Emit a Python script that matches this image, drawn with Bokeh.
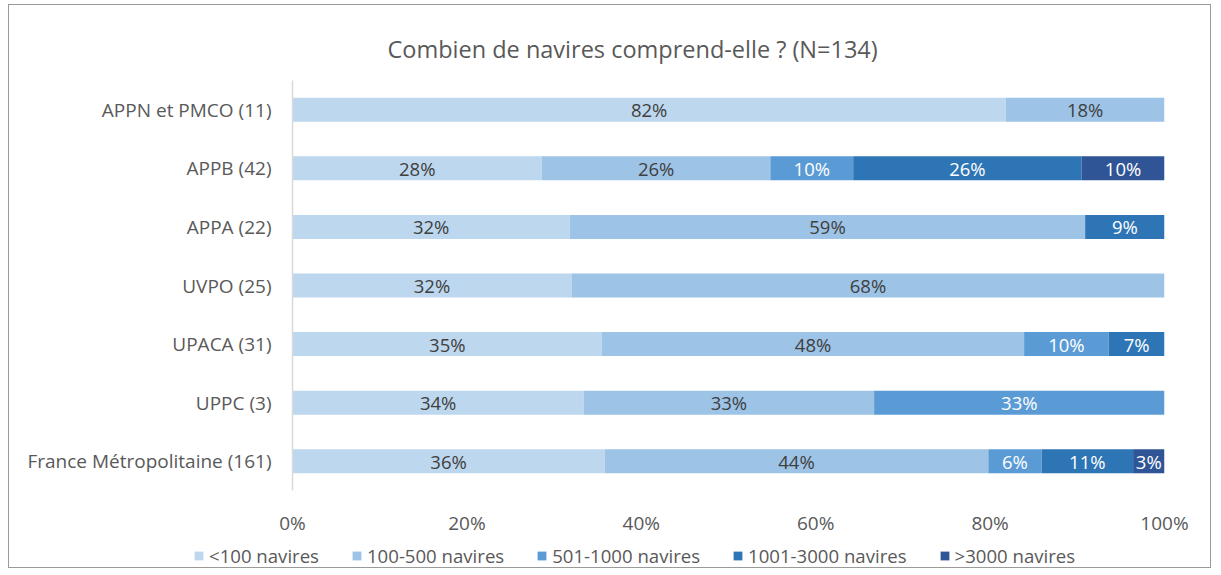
from bokeh.plotting import figure
from bokeh.models import (ColumnDataSource, FactorRange, Range1d, FixedTicker,
                          PrintfTickFormatter, Legend, LegendItem, Title)
from bokeh.core.properties import value
from bokeh.embed import file_html
from bokeh.resources import INLINE

# ---- data ----
categories = ["APPN et PMCO (11)", "APPB (42)", "APPA (22)", "UVPO (25)",
              "UPACA (31)", "UPPC (3)", "France Métropolitaine (161)"]
series = ["<100 navires", "100-500 navires", "501-1000 navires",
          "1001-3000 navires", ">3000 navires"]
v_lt100 = [81.8, 28.6, 31.8, 32.0, 35.5, 33.4, 35.8]
v_100_500 = [18.2, 26.2, 59.1, 68.0, 48.4, 33.3, 44.0]
v_501_1000 = [0.0, 9.5, 0.0, 0.0, 9.7, 33.3, 6.1]
v_1001_3000 = [0.0, 26.2, 9.1, 0.0, 6.4, 0.0, 10.5]
v_gt3000 = [0.0, 9.5, 0.0, 0.0, 0.0, 0.0, 3.6]
lab_lt100 = ["82%", "28%", "32%", "32%", "35%", "34%", "36%"]
lab_100_500 = ["18%", "26%", "59%", "68%", "48%", "33%", "44%"]
lab_501_1000 = ["", "10%", "", "", "10%", "33%", "6%"]
lab_1001_3000 = ["", "26%", "9%", "", "7%", "", "11%"]
lab_gt3000 = ["", "10%", "", "", "", "", "3%"]
x_ticks = [0, 20, 40, 60, 80, 100]
title_text = "Combien de navires comprend-elle ? (N=134)"

colors = ["#BDD7EE", "#9DC3E6", "#5B9BD5", "#2E75B6", "#2F5597"]
label_colors = ["#404040", "#404040", "#FFFFFF", "#FFFFFF", "#FFFFFF"]
FONT = "Open Sans"
BORDER = "1px solid #9a9a9a"

values = [v_lt100, v_100_500, v_501_1000, v_1001_3000, v_gt3000]
labels = [lab_lt100, lab_100_500, lab_501_1000, lab_1001_3000, lab_gt3000]

W = 1203
p = figure(width=W, height=533, output_backend="svg", toolbar_location=None,
           y_range=FactorRange(*reversed(categories)), x_range=Range1d(0, 100),
           min_border_left=283, min_border_right=48, min_border_top=75,
           min_border_bottom=48)
p.styles = {"border-left": BORDER, "border-right": BORDER, "border-top": BORDER,
            "margin": "4px 0 0 8px"}

lefts = [0.0] * len(categories)
for i, name in enumerate(series):
    rights = [l + v for l, v in zip(lefts, values[i])]
    src = ColumnDataSource(dict(cat=categories, left=lefts, right=rights,
                                mid=[(l + r) / 2 for l, r in zip(lefts, rights)],
                                lab=labels[i]))
    p.hbar(y="cat", left="left", right="right", height=0.41, source=src,
           fill_color=colors[i], line_color=None)
    p.text(x="mid", y="cat", text="lab", source=src, text_align="center",
           text_baseline="middle", text_color=label_colors[i],
           text_font=value(FONT), text_font_size="18.5px")
    lefts = rights

p.add_layout(Title(text=title_text, align="left", offset=95, standoff=32,
                   text_font=FONT, text_font_size="23.5px",
                   text_font_style="normal", text_color="#595959"), "above")

p.xgrid.visible = False
p.ygrid.visible = False
p.outline_line_color = None

p.xaxis.ticker = FixedTicker(ticks=x_ticks)
p.xaxis.formatter = PrintfTickFormatter(format="%d%%")
p.xaxis.axis_line_color = None
p.xaxis.major_tick_line_color = None
p.xaxis.minor_tick_line_color = None
p.xaxis.major_label_text_font = FONT
p.xaxis.major_label_text_font_size = "19px"
p.xaxis.major_label_text_color = "#595959"
p.xaxis.major_label_standoff = 13

p.yaxis.axis_line_color = "#D9D9D9"
p.yaxis.axis_line_width = 1.5
p.yaxis.major_tick_line_color = None
p.yaxis.minor_tick_line_color = None
p.yaxis.major_label_text_font = FONT
p.yaxis.major_label_text_font_size = "19px"
p.yaxis.major_label_text_color = "#595959"
p.yaxis.major_label_standoff = 15

# legend strip below the chart (separate root so its frame is not aligned)
leg = figure(width=W, height=31, output_backend="svg", toolbar_location=None,
             x_axis_type=None, y_axis_type=None, min_border=0,
             x_range=Range1d(0, 1), y_range=Range1d(0, 1))
leg.styles = {"border-left": BORDER, "border-right": BORDER, "border-bottom": BORDER,
              "margin": "0 0 0 8px"}
leg.outline_line_color = None
leg.xgrid.visible = False
leg.ygrid.visible = False
offscreen = ColumnDataSource(dict(y=[0.5], left=[5.0], right=[6.0]))
leg_renderers = [leg.hbar(y="y", left="left", right="right", height=0.5, source=offscreen,
                          fill_color=c, line_color=None) for c in colors]
legend = Legend(items=[LegendItem(label=s, renderers=[r]) for s, r in zip(series, leg_renderers)],
                orientation="horizontal", location=(184, 0),
                glyph_width=11, glyph_height=11, label_standoff=5, spacing=32,
                label_text_font=FONT, label_text_font_size="18.6px",
                label_text_color="#595959", background_fill_alpha=0,
                border_line_color=None, padding=2, margin=0)
leg.add_layout(legend, "center")

open("out.html", "w").write(file_html([p, leg], INLINE))
